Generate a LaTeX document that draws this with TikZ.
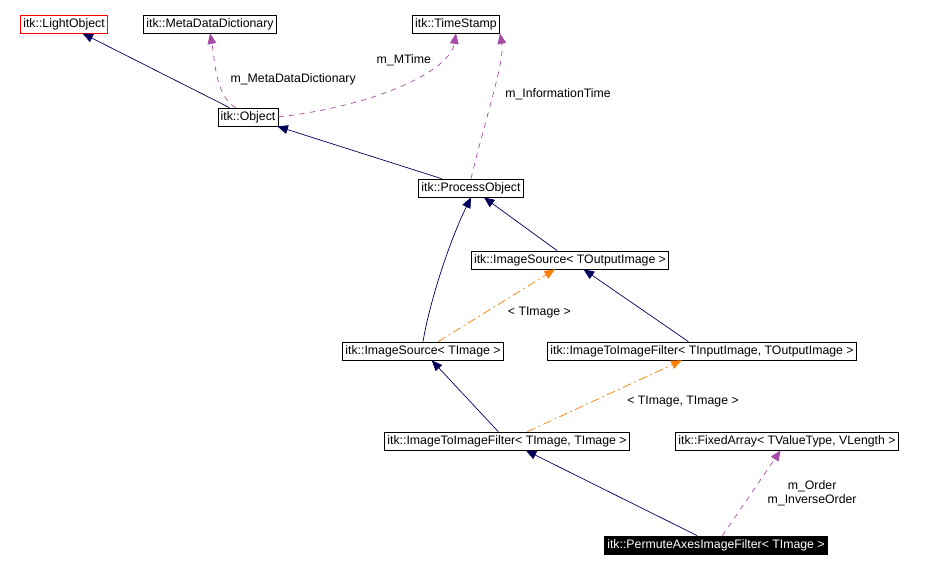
\documentclass[tikz,border=0pt]{standalone}
\usepackage{fontspec}
\setmainfont{Liberation Sans}
\usetikzlibrary{arrows.meta}
\begin{document}
\begin{tikzpicture}[
    x=0.02cm, y=-0.02cm,
    font=\fontsize{7}{8}\selectfont,
    cls/.style={rectangle, draw, inner sep=1.6pt, minimum height=0.36cm, text height=5.5pt, text depth=1.5pt},
    inherit/.style={-{Triangle[width=5pt,length=6pt]}, draw=blue!35!black},
    member/.style={-{Triangle[width=5pt,length=6pt,fill=violet!70!white]}, draw=violet!70!white, dashed},
    tmpl/.style={-{Triangle[width=5pt,length=6pt,fill=orange]}, draw=orange, dash pattern=on 5pt off 2pt on 1pt off 2pt},
    lbl/.style={align=center, inner sep=1pt}
]
\useasboundingbox (0,0) rectangle (925,569);

% Classes
\node[cls, draw=red] (light) at (64,24) {itk::LightObject};
\node[cls] (mdd) at (210,24) {itk::MetaDataDictionary};
\node[cls] (stamp) at (456,24) {itk::TimeStamp};
\node[cls] (obj) at (248,117) {itk::Object};
\node[cls] (proc) at (471,188) {itk::ProcessObject};
\node[cls] (srcout) at (570,260) {itk::ImageSource\textless{} TOutputImage \textgreater};
\node[cls] (srcimg) at (423,351) {itk::ImageSource\textless{} TImage \textgreater};
\node[cls] (filtio) at (702,351) {itk::ImageToImageFilter\textless{} TInputImage, TOutputImage \textgreater};
\node[cls] (filtimg) at (507,441) {itk::ImageToImageFilter\textless{} TImage, TImage \textgreater};
\node[cls] (fixed) at (787,441) {itk::FixedArray\textless{} TValueType, VLength \textgreater};
\node[cls, fill=black, text=white] (perm) at (716,545) {itk::PermuteAxesImageFilter\textless{} TImage \textgreater};

% Inheritance
\draw[inherit] (obj) -- (light);
\draw[inherit] (proc) -- (obj);
\draw[inherit] (srcout) -- (proc);
\draw[inherit] (srcimg.north) .. controls (430,300) and (450,240) .. (proc.south);
\draw[inherit] (filtio) -- (srcout);
\draw[inherit] (filtimg) -- (srcimg);
\draw[inherit] (perm) -- (filtimg);

% Members
\draw[member] (obj.north west) ++(18,0) coordinate (objtop)
    .. controls (215,95) and (215,60) .. (mdd.south)
    node[lbl, pos=0.45, right=6pt] {m\_MetaDataDictionary};
\draw[member] (obj.east) .. controls (380,105) and (450,70) .. (stamp.south)
    node[lbl, pos=0.75, left=4pt] {m\_MTime};
\draw[member] (proc.north) .. controls (485,120) and (505,60) .. (stamp.south east)
    node[lbl, pos=0.5, right=6pt] {m\_InformationTime};
\draw[member] (perm) -- (fixed)
    node[lbl, pos=0.5, right=8pt] {m\_Order\\m\_InverseOrder};

% Template arguments
\draw[tmpl] (srcimg) -- (srcout) node[lbl, pos=0.55, below right=2pt] {\textless{} TImage \textgreater};
\draw[tmpl] (filtimg) -- (filtio) node[lbl, pos=0.6, below right=3pt] {\textless{} TImage, TImage \textgreater};
\end{tikzpicture}
\end{document}
